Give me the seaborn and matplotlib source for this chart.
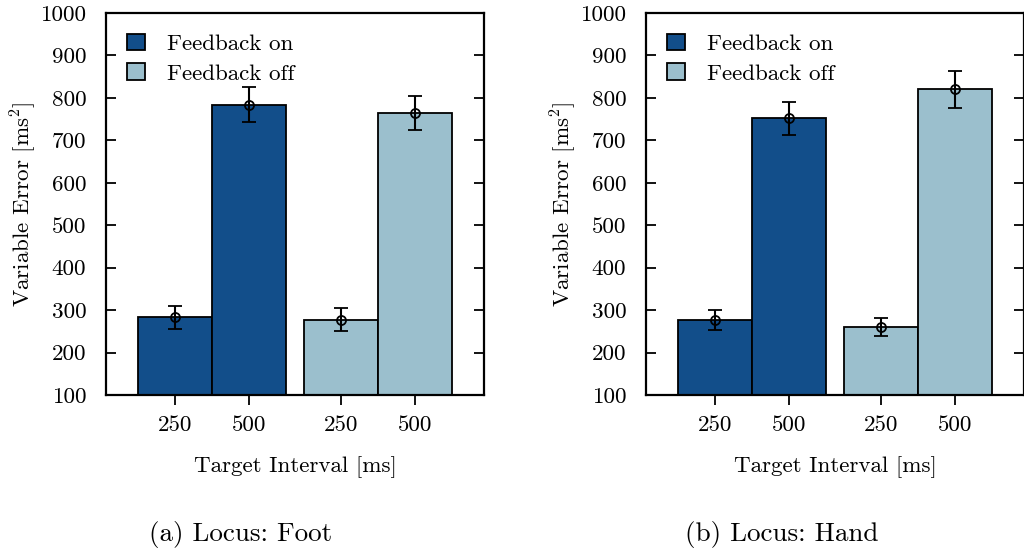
import matplotlib
matplotlib.use("Agg")
import matplotlib.pyplot as plt
from matplotlib.patches import Patch
import numpy as np
import pandas as pd
import seaborn as sns

# Mean variable error per condition and its standard error
intervals = ["250", "500"]
feedback = ["Feedback on", "Feedback off"]
foot_on = [283, 784]
foot_off = [277, 764]
foot_on_err = [27, 41]
foot_off_err = [27, 40]
hand_on = [277, 752]
hand_off = [260, 820]
hand_on_err = [23, 39]
hand_off_err = [22, 43]

colors = {"Feedback on": "#124e8a", "Feedback off": "#9bbfcd"}

sns.set_style("ticks")
plt.rcParams["font.family"] = ["cmr10", "DejaVu Serif"]
plt.rcParams["mathtext.fontset"] = "cm"
plt.rcParams["axes.formatter.use_mathtext"] = True
plt.rcParams["text.color"] = "black"
plt.rcParams["axes.labelcolor"] = "black"
plt.rcParams["xtick.color"] = "black"
plt.rcParams["ytick.color"] = "black"
plt.rcParams["axes.edgecolor"] = "black"
FS = 16.6
CAP_FS = 19.5


def make_frame(on, off, on_err, off_err):
    rows = []
    for fb, vals, errs in (("Feedback on", on, on_err), ("Feedback off", off, off_err)):
        for iv, v, e in zip(intervals, vals, errs):
            rows.append({"feedback": fb, "interval": iv, "value": v, "err": e})
    return pd.DataFrame(rows)


def draw_panel(ax, df):
    sns.barplot(data=df, x="feedback", y="value", hue="interval",
                order=feedback, hue_order=intervals, width=0.89,
                errorbar=None, legend=False, edgecolor="black",
                linewidth=1.3, ax=ax)
    centers, labels = [], []
    for iv, cont in zip(intervals, ax.containers):
        for fb, bar in zip(feedback, cont):
            bar.set_facecolor(colors[fb])
            row = df[(df.feedback == fb) & (df.interval == iv)].iloc[0]
            cx = bar.get_x() + bar.get_width() / 2
            centers.append(cx)
            labels.append(iv)
            ax.errorbar(cx, row.value, yerr=row.err, fmt="o", mfc="none",
                        mec="black", ms=6.5, mew=1.3, ecolor="black",
                        elinewidth=1.5, capsize=5, capthick=1.5, zorder=5)
    order = np.argsort(centers)
    ax.set_xticks([centers[i] for i in order])
    ax.set_xticklabels([labels[i] for i in order], fontsize=FS)
    ax.set_xlim(-0.642, 1.642)
    ax.set_ylim(100, 1000)
    ax.set_yticks(range(100, 1001, 100))
    ax.set_yticklabels([str(v) for v in range(100, 1001, 100)], fontsize=FS)
    ax.tick_params(axis="y", direction="in", length=7, width=1.3,
                   left=True, right=True, pad=14)
    ax.tick_params(axis="x", direction="out", length=7, width=1.3, pad=8)
    for s in ax.spines.values():
        s.set_visible(True)
        s.set_linewidth(1.6)
        s.set_color("black")
    ax.set_xlabel("Target Interval [ms]", fontsize=FS, labelpad=15)
    ax.set_ylabel(r"Variable Error [ms$^2$]", fontsize=FS, labelpad=1)
    handles = [Patch(facecolor=colors[f], edgecolor="black", linewidth=1.3,
                     label=f) for f in feedback]
    ax.legend(handles=handles, loc="upper left", bbox_to_anchor=(0.055, 0.945),
              frameon=False, fontsize=FS, handlelength=0.8, handleheight=0.7,
              handletextpad=0.95, labelspacing=0.4, borderpad=0,
              borderaxespad=0)


fig = plt.figure(figsize=(10.24, 5.54), dpi=100)
W, H = 1024, 554
ax1 = fig.add_axes([105.7 / W, (H - 395) / H, 378.5 / W, 382 / H])
ax2 = fig.add_axes([645.7 / W, (H - 395) / H, 378.5 / W, 382 / H])

draw_panel(ax1, make_frame(foot_on, foot_off, foot_on_err, foot_off_err))
draw_panel(ax2, make_frame(hand_on, hand_off, hand_on_err, hand_off_err))

fig.text(241 / W, 1 - 535 / H, "(a) Locus: Foot", ha="center", va="center",
         fontsize=CAP_FS)
fig.text(782 / W, 1 - 535 / H, "(b) Locus: Hand", ha="center", va="center",
         fontsize=CAP_FS)

fig.savefig("out.png", dpi=100)
